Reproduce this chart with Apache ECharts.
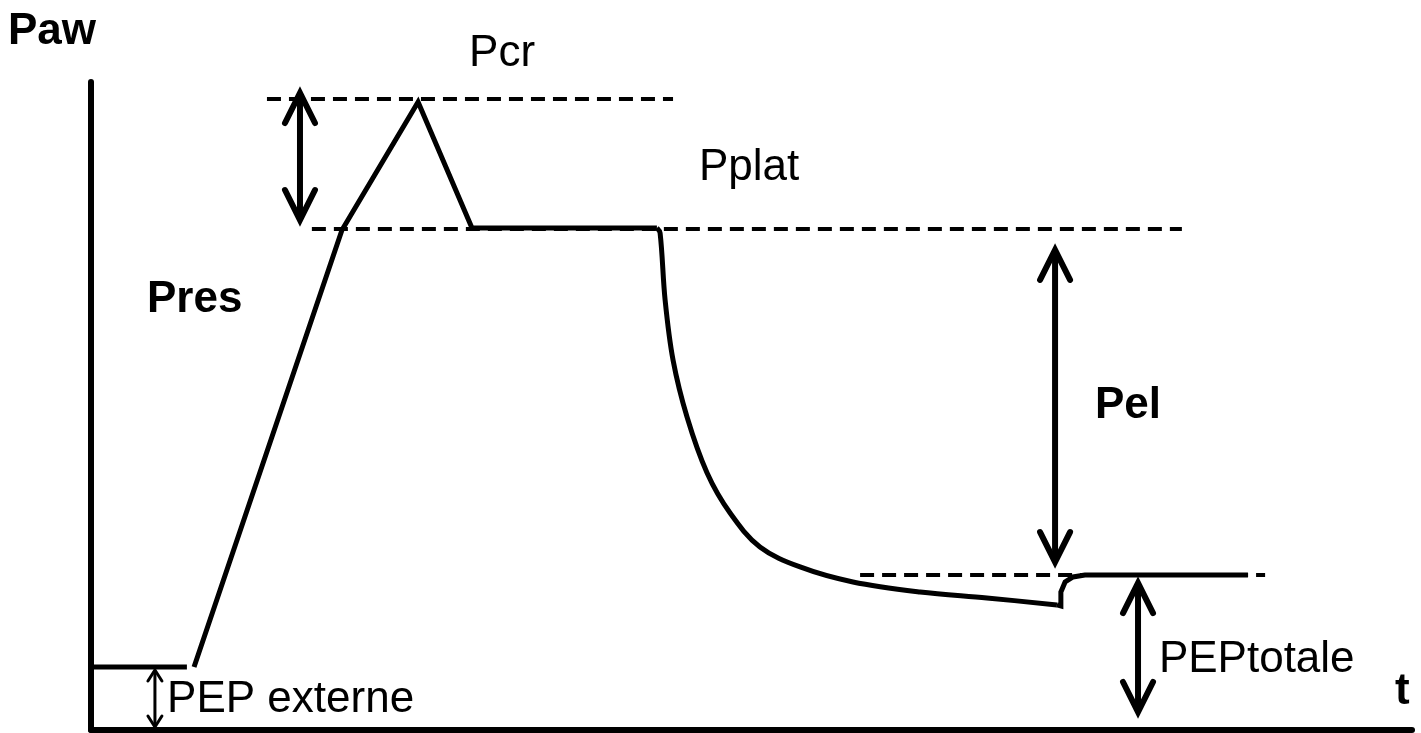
<!DOCTYPE html>
<html>
<head>
<meta charset="utf-8">
<title>Paw</title>
<script src="https://cdn.jsdelivr.net/npm/echarts@6.0.0/dist/echarts.min.js"></script>
<style>
  html, body { margin: 0; padding: 0; background: #fff; }
  #chart { width: 1421px; height: 733px; }
</style>
</head>
<body>
<div id="chart"></div>
<script>
// courbe de pression des voies aériennes (t en s, Paw en unités arbitraires)
const pepExterne = [[0, 4.86], [0.363, 4.86]];
const insufflation = [
  [0.39, 4.86], [0.95, 38.58], [1.238, 48.46], [1.442, 38.73], [2.142, 38.73]
];
const expiration = [
  [2.142, 38.73], [2.154, 38.35], [2.173, 33.18], [2.203, 28.55], [2.256, 24.15],
  [2.332, 19.83], [2.419, 16.74], [2.532, 14.12], [2.684, 12.58], [2.884, 11.42],
  [3.138, 10.65], [3.391, 10.19], [3.656, 9.65]
];
const occlusion = [
  [3.656, 9.65], [3.671, 9.57], [3.671, 10.65], [3.687, 11.42], [3.717, 11.81],
  [3.762, 11.96], [4.379, 11.96]
];

// niveaux en pointillés
const niveauPcr = [[0.666, 48.69], [2.203, 48.69]];
const niveauPplat = [[0.836, 38.66], [4.129, 38.66]];
const niveauPep = [[2.911, 11.96], [4.444, 11.96]];

// flèches doubles : [t, haut, bas]
const flechesEpaisses = [[0.791, 49.15, 39.35], [3.649, 37.04, 12.96], [3.963, 11.34, 1.39]];
const flecheFine = [[0.242, 4.63, 0.23]];

// étiquettes : [t, Paw, texte]
const etiquettes = [
  [1.431, 52.2, 'Pcr'],
  [2.301, 43.36, 'Pplat'],
  [4.042, 5.40, 'PEPtotale'],
  [0.288, 2.31, 'PEP externe']
];
const etiquettesGras = [
  [0.212, 33.18, 'Pres'],
  [3.800, 25.0, 'Pel'],
  [4.936, 2.93, 't']
];

const myChart = echarts.init(document.getElementById('chart'));

function flecheRender(headW, headL, lw) {
  return function (params, api) {
    const top = api.coord([api.value(0), api.value(1)]);
    const bot = api.coord([api.value(0), api.value(2)]);
    const style = { stroke: '#000', lineWidth: lw, fill: null, lineCap: 'round', lineJoin: 'miter' };
    return {
      type: 'group',
      children: [
        { type: 'line', shape: { x1: top[0], y1: top[1] + 2, x2: bot[0], y2: bot[1] - 2 }, style: style },
        { type: 'polyline', shape: { points: [[top[0] - headW, top[1] + headL], [top[0], top[1]], [top[0] + headW, top[1] + headL]] }, style: style },
        { type: 'polyline', shape: { points: [[bot[0] - headW, bot[1] - headL], [bot[0], bot[1]], [bot[0] + headW, bot[1] - headL]] }, style: style }
      ]
    };
  };
}

function pointilles(data) {
  return {
    type: 'line', data: data, symbol: 'none', silent: true,
    lineStyle: { color: '#000', width: 4, type: [14, 8] }
  };
}

function courbe(data, lisse) {
  return {
    type: 'line', data: data, symbol: 'none', silent: true,
    smooth: lisse ? 0.35 : false,
    lineStyle: { color: '#000', width: 5, cap: 'butt', join: 'miter' }
  };
}

function textes(data, weight) {
  return {
    type: 'scatter', symbolSize: 0, clip: false, silent: true,
    data: data,
    itemStyle: { opacity: 1 },
    label: {
      show: true, position: 'right', distance: 0,
      formatter: function (p) { return p.value[2]; },
      fontFamily: 'Liberation Sans', fontSize: 44, fontWeight: weight,
      color: '#000', opacity: 1
    }
  };
}

const option = {
  animation: false,
  grid: { left: 91, right: 9, top: 82, bottom: 3, outerBoundsMode: 'none', containLabel: false },
  xAxis: {
    type: 'value', min: 0, max: 5,
    axisLine: { lineStyle: { color: '#000', width: 6 } },
    axisTick: { show: false }, axisLabel: { show: false }, splitLine: { show: false }
  },
  yAxis: {
    type: 'value', min: 0, max: 50,
    name: 'Paw', nameLocation: 'end', nameGap: 28,
    nameTextStyle: {
      fontFamily: 'Liberation Sans', fontSize: 44, fontWeight: 'bold', color: '#000',
      align: 'center', padding: [0, 78, 0, 0]
    },
    axisLine: { lineStyle: { color: '#000', width: 6 } },
    axisTick: { show: false }, axisLabel: { show: false }, splitLine: { show: false }
  },
  series: [
    pointilles(niveauPcr),
    pointilles(niveauPplat),
    pointilles(niveauPep),
    courbe(pepExterne),
    courbe(insufflation),
    courbe(expiration, true),
    courbe(occlusion),
    {
      type: 'custom', clip: false, silent: true,
      data: flechesEpaisses,
      encode: { x: 0, y: [1, 2] },
      renderItem: flecheRender(15, 30, 6)
    },
    {
      type: 'custom', clip: false, silent: true,
      data: flecheFine,
      encode: { x: 0, y: [1, 2] },
      renderItem: flecheRender(7, 11, 3)
    },
    textes(etiquettes, 'normal'),
    textes(etiquettesGras, 'bold')
  ]
};

myChart.setOption(option);
</script>
</body>
</html>
